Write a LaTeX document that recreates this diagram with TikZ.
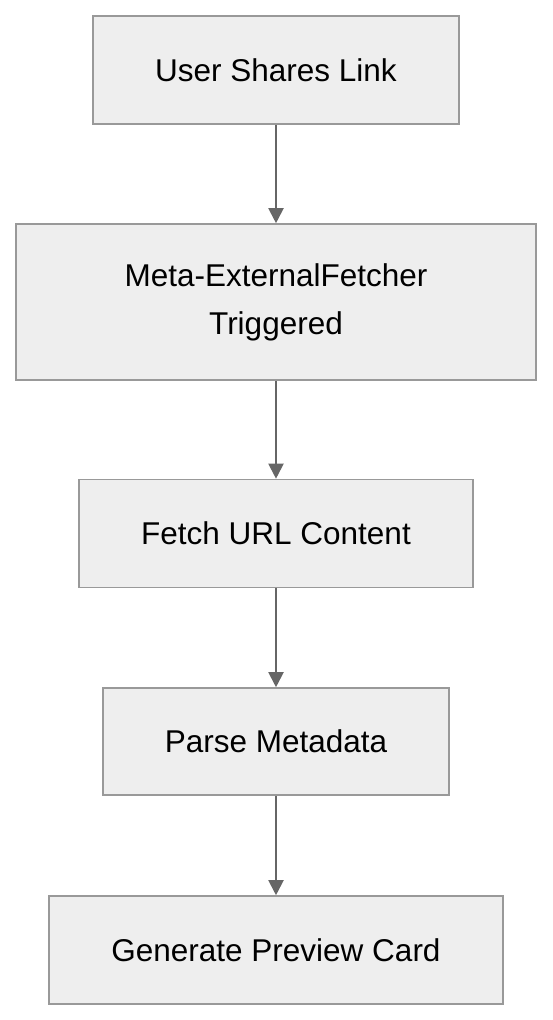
\documentclass[tikz,border=0pt]{standalone}
\usepackage{fontspec}
\setmainfont{Liberation Sans}
\usetikzlibrary{arrows.meta}
\definecolor{boxfill}{HTML}{EEEEEE}
\definecolor{boxline}{HTML}{999999}
\definecolor{arrowc}{HTML}{666666}
\begin{document}
\begin{tikzpicture}[x=1pt,y=-1pt,
  stepbox/.style={draw=boxline,fill=boxfill,line width=1.6pt,rectangle,inner sep=0pt,
    font=\fontsize{31.5}{48}\selectfont,align=center,text=black},
  flow/.style={draw=arrowc,line width=2pt,-{Triangle[width=15pt,length=15pt]}}]
\useasboundingbox[fill=white] (0,0) rectangle (552,1020);
\node[stepbox,minimum width=366pt,minimum height=108pt] (a) at (276,70) {User Shares Link};
\node[stepbox,minimum width=520pt,minimum height=156pt] (b) at (276,302) {Meta-ExternalFetcher\\Triggered};
\node[stepbox,minimum width=394pt,minimum height=108pt] (c) at (276,533.5) {Fetch URL Content};
\node[stepbox,minimum width=346pt,minimum height=107pt] (d) at (276,741.5) {Parse Metadata};
\node[stepbox,minimum width=454pt,minimum height=108pt] (e) at (276,950) {Generate Preview Card};
\draw[flow] (a) -- (b);
\draw[flow] (b) -- (c);
\draw[flow] (c) -- (d);
\draw[flow] (d) -- (e);
\end{tikzpicture}
\end{document}
